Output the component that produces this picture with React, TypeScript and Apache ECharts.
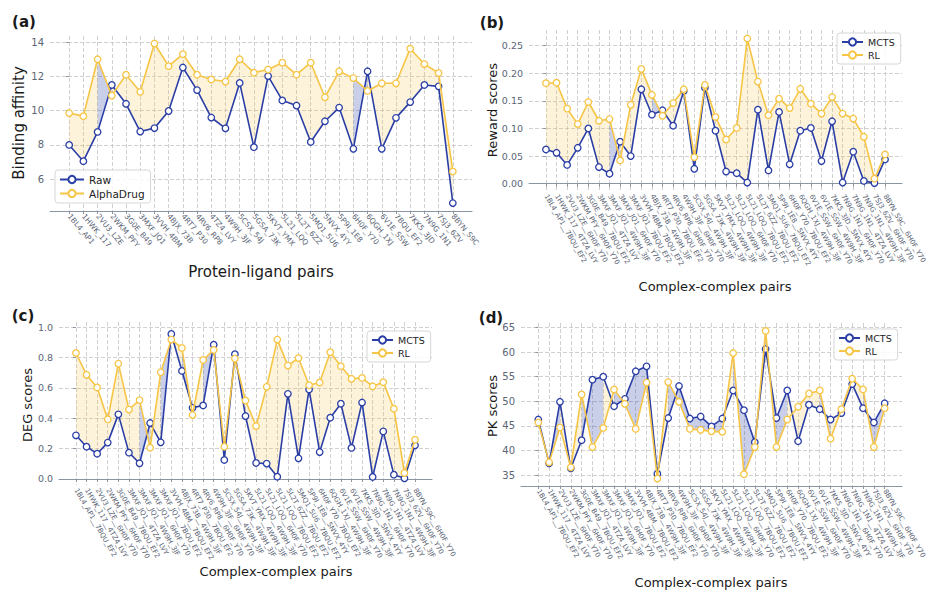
import React, { useEffect, useRef } from 'react';
import * as echarts from 'echarts';

const pairsA = ['1BL4_AP1','1HWK_117','2VU3_LZE','2WKM_PFY','3G0E_B49','3MXF_JQ1','3VVH_4BM','4BJX_73B','4RT7_P30','4RV6_RP8','4TZ4_LVY','4W9H_3JF','5CSX_54J','5GSA_73K','5KVT_YMX','5L21_LQQ','5L2T_6ZZ','5MQ1_5U6','5NVX_4YY','5P9I_1E8','6H0F_Y70','6QGH_1XJ','6V1E_SSW','7BQU_EF2','7KK5_3JD','7N9G_1N1','7SJ3_6ZV','8BYN_S9C'];
const rawA = [8.0,7.05,8.76,11.5,10.4,8.78,8.98,9.98,12.52,11.2,9.6,8.97,11.62,7.87,12.02,10.6,10.3,8.17,9.38,10.18,7.77,12.3,7.77,9.58,10.5,11.5,11.42,4.6];
const alphaDrugA = [9.86,9.68,13.0,10.88,12.1,11.1,13.92,12.6,13.3,12.1,11.82,11.7,13.0,12.22,12.4,12.8,12.1,12.8,10.78,12.3,11.9,11.15,11.6,11.6,13.62,12.72,12.2,6.45];

const pairsB = ['1BL4_AP1__7BQU_EF2','1HWK_117__4TZ4_LVY','2VU3_LZE__6H0F_Y70','2WKM_PFY__6H0F_Y70','3G0E_B49__7BQU_EF2','3MXF_JQ1__4TZ4_LVY','3MXF_JQ1__4W9H_3JF','3MXF_JQ1__6H0F_Y70','3MXF_JQ1__7BQU_EF2','3VVH_4BM__7BQU_EF2','4BJX_73B__4W9H_3JF','4RT7_P30__7BQU_EF2','4RV6_RP8__6H0F_Y70','4W9H_3JF__6H0F_Y70','5CSX_54J__4W9H_3JF','5GSA_73K__4W9H_3JF','5KVT_YMX__4W9H_3JF','5L21_LQQ__4W9H_3JF','5L21_LQQ__6H0F_Y70','5L21_LQQ__7BQU_EF2','5L2T_6ZZ__7BQU_EF2','5MQ1_5U6__7BQU_EF2','5P9I_1E8__5NVX_4YY','6H0F_Y70__7BQU_EF2','6QGH_1XJ__4W9H_3JF','6V1E_SSW__6H0F_Y70','6V1E_SSW__4W9H_3JF','7KK5_3JD__5NVX_4YY','7N9G_1N1__6H0F_Y70','7N9G_1N1__4TZ4_LVY','7N9G_1N1__4W9H_3JF','7SJ3_6ZV__6H0F_Y70','8BYN_S9C__6H0F_Y70'];

const mctsReward = [0.062,0.056,0.034,0.065,0.100,0.030,0.018,0.076,0.050,0.171,0.125,0.133,0.105,0.168,0.027,0.174,0.096,0.022,0.019,0.002,0.134,0.024,0.130,0.035,0.096,0.101,0.041,0.113,0.002,0.058,0.005,0.001,0.044];
const rlReward = [0.182,0.183,0.136,0.108,0.148,0.114,0.117,0.042,0.143,0.208,0.161,0.123,0.146,0.171,0.048,0.179,0.121,0.080,0.101,0.263,0.185,0.124,0.154,0.137,0.172,0.145,0.127,0.157,0.127,0.118,0.085,0.009,0.053];

const mctsDeg = [0.287,0.212,0.166,0.239,0.425,0.173,0.103,0.368,0.241,0.954,0.711,0.468,0.484,0.884,0.125,0.821,0.414,0.105,0.101,0.015,0.560,0.136,0.589,0.177,0.403,0.495,0.204,0.503,0.013,0.313,0.028,0.004,0.221];
const rlDeg = [0.829,0.685,0.602,0.392,0.759,0.457,0.519,0.206,0.702,0.917,0.862,0.420,0.783,0.849,0.212,0.792,0.516,0.348,0.606,0.917,0.746,0.796,0.617,0.635,0.834,0.742,0.659,0.665,0.610,0.637,0.462,0.039,0.258];

const mctsPk = [46.3,37.4,49.9,36.4,42.1,54.4,55.0,49.0,50.5,56.1,57.1,35.3,46.6,53.1,46.5,46.9,44.9,46.5,52.2,48.2,41.7,60.6,46.6,52.2,41.9,49.3,48.4,46.3,47.6,53.5,48.6,45.7,49.6];
const rlPk = [45.7,37.6,44.7,36.6,51.4,40.7,44.6,52.4,49.5,44.4,53.8,34.3,53.9,49.9,44.4,44.2,43.9,43.8,59.8,35.2,40.7,64.3,40.7,46.3,48.9,51.6,52.2,42.4,48.4,54.6,52.4,40.7,48.6];

const ticksA = [6, 8, 10, 12, 14];
const ticksB = [0, 0.05, 0.1, 0.15, 0.2, 0.25];
const ticksC = [0, 0.2, 0.4, 0.6, 0.8, 1.0];
const ticksD = [35, 40, 45, 50, 55, 60, 65];

const BLUE = '#2a3ea6';
const YELLOW = '#f7c545';
const BLUE_FILL = 'rgba(42,62,166,0.25)';
const YELLOW_FILL = 'rgba(247,197,69,0.2)';
const TICK = '#5b6576';
const FONT = 'DejaVu Sans';

interface PanelCfg {
  cats: string[];
  low: number[];
  high: number[];
  lowName: string;
  highName: string;
  ticks: number[];
  dec: number;
  yMin: number;
  yMax: number;
  grid: any;
  rot: number;
  xFont: number;
  yFont: number;
}

function buildPanel(k: number, c: PanelCfg) {
  const n = c.cats.length;
  const m = 0.05 * (n - 1);
  const idx = c.cats.map((_, i) => i);
  const dash = { type: [4, 2], color: '#c4c4c4', width: 0.8 };
  const xAxis = {
    type: 'value', gridIndex: k, min: -m, max: n - 1 + m,
    axisLine: { show: true, lineStyle: { color: '#8a94a3', width: 1 } },
    axisTick: { show: true, customValues: idx, length: 3, lineStyle: { color: '#8a94a3' } },
    axisLabel: {
      customValues: idx, rotate: c.rot, fontSize: c.xFont, color: TICK, margin: 4,
      fontFamily: FONT,
      formatter: (v: number) => c.cats[Math.round(v)] ?? '',
    },
    splitLine: { show: true, lineStyle: dash },
  };
  const yAxis = {
    type: 'value', gridIndex: k, min: c.yMin, max: c.yMax,
    axisLine: { show: false },
    axisTick: { show: true, customValues: c.ticks, length: 3, lineStyle: { color: '#8a94a3' } },
    axisLabel: {
      customValues: c.ticks, fontSize: c.yFont, color: TICK, margin: 6, fontFamily: FONT,
      formatter: (v: number) => v.toFixed(c.dec),
    },
    splitLine: { show: true, lineStyle: dash },
  };
  const segs = idx.slice(0, n - 1).map((i) => [i, c.high[i], c.low[i], c.high[i + 1], c.low[i + 1]]);
  const fill = {
    type: 'custom', xAxisIndex: k, yAxisIndex: k, z: 1, silent: true,
    encode: { x: 0, y: [1, 2, 3, 4] },
    data: segs,
    renderItem: (_p: any, api: any) => {
      const i = api.value(0);
      const a0 = api.value(1), b0 = api.value(2), a1 = api.value(3), b1 = api.value(4);
      const pts = [api.coord([i, a0]), api.coord([i + 1, a1]), api.coord([i + 1, b1]), api.coord([i, b0])];
      return { type: 'polygon', shape: { points: pts }, style: { fill: a1 >= b1 ? YELLOW_FILL : BLUE_FILL, stroke: null } };
    },
  };
  const line = (name: string, vals: number[], color: string, z: number) => ({
    type: 'line', name, xAxisIndex: k, yAxisIndex: k, z,
    data: vals.map((v, i) => [i, v]),
    symbol: 'circle', symbolSize: 6.5,
    lineStyle: { color, width: 1.6 },
    itemStyle: { color: '#ffffff', borderColor: color, borderWidth: 1.3 },
  });
  return {
    grid: c.grid, xAxis, yAxis,
    series: [fill, line(c.lowName, c.low, BLUE, 3), line(c.highName, c.high, YELLOW, 4)],
  };
}

function legend(names: string[], left: number, top: number, fs: number, iw: number) {
  return {
    data: names, left, top, orient: 'vertical',
    padding: [4, 6, 4, 4], itemGap: 3, itemWidth: iw, itemHeight: 9,
    borderColor: '#d6d6d6', borderWidth: 1, borderRadius: 3,
    backgroundColor: 'rgba(255,255,255,0.85)',
    textStyle: { fontSize: fs, color: '#222', fontFamily: FONT },
    selectedMode: false,
  };
}

function txt(text: string, x: number, y: number, size: number, bold = false, rot = 0) {
  return {
    type: 'text', x, y, rotation: rot, z: 10,
    style: { text, fontSize: size, fontWeight: bold ? 'bold' : 'normal', fontFamily: FONT, fill: '#1a1a1a', align: 'center', verticalAlign: 'middle' },
  };
}

export default function App() {
  const ref = useRef<HTMLDivElement>(null);
  useEffect(() => {
    if (!ref.current) return;
    const chart = echarts.init(ref.current, undefined, { renderer: 'svg' });
    const panels = [
      buildPanel(0, { cats: pairsA, low: rawA, high: alphaDrugA, lowName: 'Raw', highName: 'AlphaDrug', ticks: ticksA, dec: 0, yMin: 4.14, yMax: 14.36, grid: { left: 50, top: 36, width: 422, height: 175 }, rot: -50, xFont: 7.5, yFont: 10 }),
      buildPanel(1, { cats: pairsB, low: mctsReward, high: rlReward, lowName: 'MCTS', highName: 'RL', ticks: ticksB, dec: 2, yMin: -0.0133, yMax: 0.2785, grid: { left: 529, top: 30, width: 373, height: 161 }, rot: -60, xFont: 7, yFont: 9.5 }),
      buildPanel(2, { cats: pairsB, low: mctsDeg, high: rlDeg, lowName: 'MCTS', highName: 'RL', ticks: ticksC, dec: 1, yMin: -0.04, yMax: 1.033, grid: { left: 59, top: 322, width: 373, height: 163 }, rot: -60, xFont: 7, yFont: 9.5 }),
      buildPanel(3, { cats: pairsB, low: mctsPk, high: rlPk, lowName: 'MCTS', highName: 'RL', ticks: ticksD, dec: 0, yMin: 32.8, yMax: 65.9, grid: { left: 521, top: 323, width: 381, height: 163 }, rot: -60, xFont: 7, yFont: 10 }),
    ];
    chart.setOption({
      animation: false,
      backgroundColor: '#ffffff',
      textStyle: { fontFamily: FONT },
      grid: panels.map((p) => p.grid),
      xAxis: panels.map((p) => p.xAxis),
      yAxis: panels.map((p) => p.yAxis),
      series: panels.flatMap((p) => p.series),
      legend: [
        legend(['Raw', 'AlphaDrug'], 55, 170, 10.5, 24),
        legend(['MCTS', 'RL'], 837, 33, 9.5, 21),
        legend(['MCTS', 'RL'], 367, 331, 9.5, 21),
        legend(['MCTS', 'RL'], 834, 329, 9.5, 21),
      ],
      graphic: [
        txt('(a)', 24, 22, 15, true),
        txt('(b)', 492, 23, 15, true),
        txt('(c)', 23, 316, 15, true),
        txt('(d)', 491, 318, 15, true),
        txt('Binding affinity', 19, 123, 15, false, Math.PI / 2),
        txt('Reward scores', 492, 110, 13, false, Math.PI / 2),
        txt('DEG scores', 27, 405, 13, false, Math.PI / 2),
        txt('PK scores', 492, 406, 13, false, Math.PI / 2),
        txt('Protein-ligand pairs', 261, 272, 15),
        txt('Complex-complex pairs', 715, 286, 13),
        txt('Complex-complex pairs', 276, 571, 13),
        txt('Complex-complex pairs', 711, 582, 13),
      ],
    });
    return () => chart.dispose();
  }, []);
  return <div ref={ref} style={{ position: 'fixed', left: 0, top: 0, width: 932, height: 590 }} />;
}
